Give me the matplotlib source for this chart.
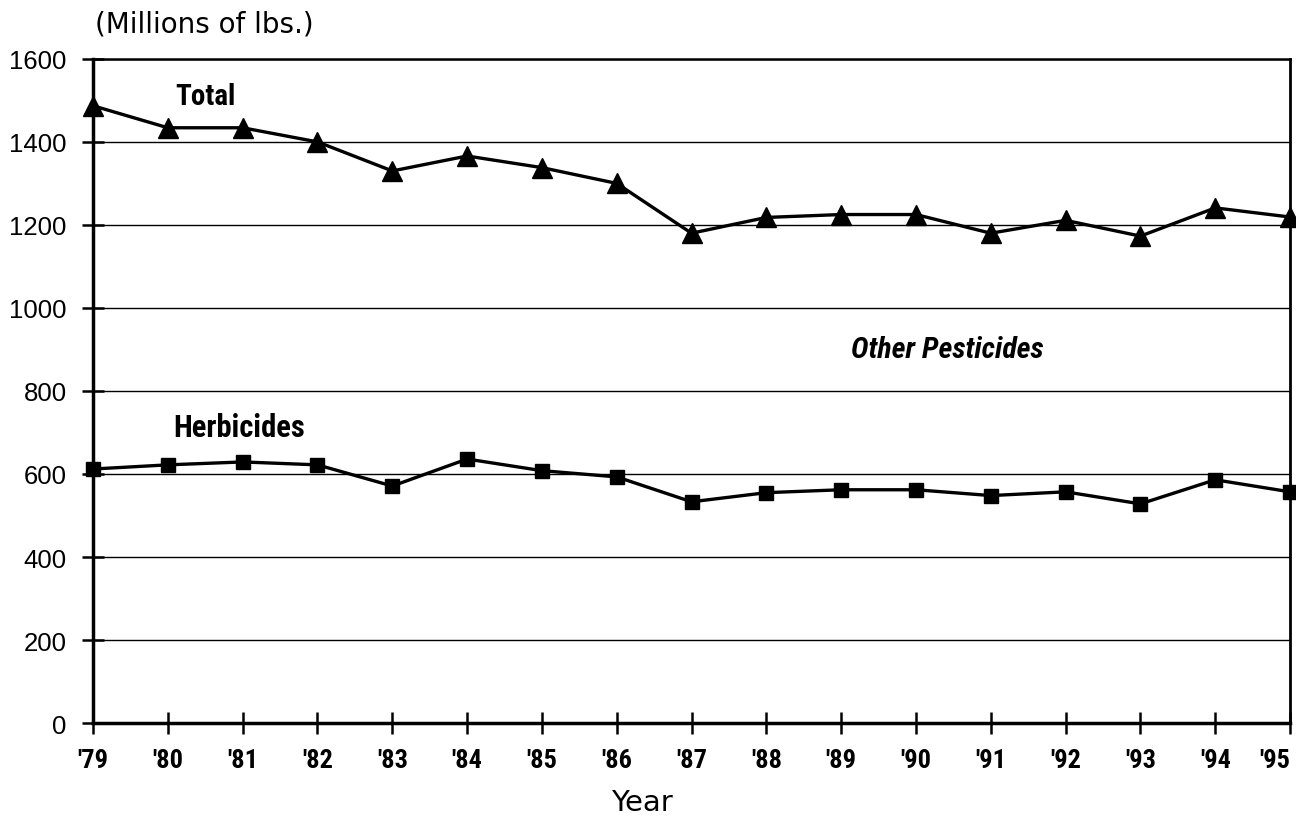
import matplotlib
matplotlib.use("Agg")
import matplotlib.pyplot as plt
from matplotlib import font_manager as fm

# data
years = ["'79", "'80", "'81", "'82", "'83", "'84", "'85", "'86", "'87",
         "'88", "'89", "'90", "'91", "'92", "'93", "'94", "'95"]
total = [1487, 1434, 1434, 1400, 1330, 1366, 1338, 1300, 1180,
         1218, 1225, 1225, 1180, 1211, 1173, 1241, 1219]
herbicides = [612, 622, 629, 622, 571, 636, 608, 593, 533,
              555, 562, 562, 548, 557, 528, 586, 557]
y_ticks = [0, 200, 400, 600, 800, 1000, 1200, 1400, 1600]

installed = {f.name for f in fm.fontManager.ttflist}
narrow = "DejaVu Sans"
for name in ["Roboto Condensed", "Liberation Sans Narrow", "DejaVu Sans Condensed"]:
    if name in installed:
        narrow = name
        break

plt.rcParams["font.family"] = ["Liberation Sans", "DejaVu Sans"]

fig = plt.figure(figsize=(12.96, 8.2), dpi=100)
ax = fig.add_axes([0.0718, 0.117, 0.9236, 0.81])

x = list(range(len(years)))
ax.plot(x, total, color="black", lw=2.4, marker="^", ms=15, clip_on=False, zorder=3)
ax.plot(x, herbicides, color="black", lw=2.4, marker="s", ms=10.5, clip_on=False, zorder=3)

ax.set_xlim(0, len(years) - 1)
ax.set_ylim(0, 1600)
ax.set_yticks(y_ticks)
ax.set_yticklabels([str(v) for v in y_ticks], fontsize=18.5)
ax.set_xticks(x)
ax.set_xticklabels(years, fontsize=19, fontweight="bold", family=narrow)
ax.get_xticklabels()[-1].set_ha("right")

ax.grid(axis="y", color="black", lw=1)
ax.set_axisbelow(True)
ax.spines["left"].set_linewidth(2.5)
ax.spines["bottom"].set_linewidth(2.5)
ax.spines["right"].set_linewidth(2)
ax.spines["top"].set_linewidth(1.8)
ax.tick_params(axis="both", direction="inout", length=16, width=1.8)
ax.tick_params(axis="y", pad=11)
ax.tick_params(axis="x", pad=10)

# series labels
ax.text(1.1, 1510, "Total", fontsize=21, fontweight="bold", family=narrow,
        va="center", ha="left")
ax.text(1.07, 712, "Herbicides", fontsize=22, fontweight="bold", family=narrow,
        va="center", ha="left")
ax.text(11.42, 900, "Other Pesticides", fontsize=21.5, fontweight="bold",
        style="italic", family=narrow, va="center", ha="center")

fig.text(0.073, 0.970, "(Millions of lbs.)", fontsize=20, family=["DejaVu Sans"],
         va="center", ha="left")
fig.text(0.495, 0.011, "Year", fontsize=21, family=["DejaVu Sans"],
         va="baseline", ha="center")

fig.savefig("out.png", dpi=100)
